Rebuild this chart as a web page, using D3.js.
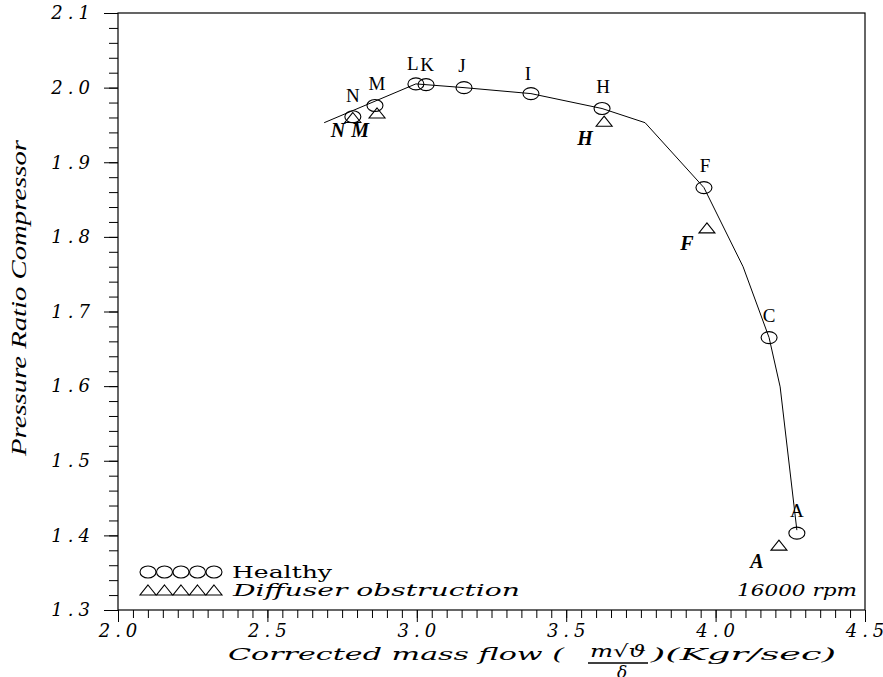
<!DOCTYPE html>
<html>
<head>
<meta charset="utf-8">
<script src="https://cdn.jsdelivr.net/npm/d3@7"></script>
<style>
  body { margin: 0; background: #fff; }
  svg { display: block; }
</style>
</head>
<body>
<svg id="chart" width="883" height="677"></svg>
<script>
// data
const healthyLabels = ['N', 'M', 'L', 'K', 'J', 'I', 'H', 'F', 'C', 'A'];
const healthyFlow = [2.786, 2.860, 2.997, 3.031, 3.158, 3.382, 3.620, 3.961, 4.179, 4.272];
const healthyRatio = [1.961, 1.976, 2.005, 2.004, 2.000, 1.992, 1.972, 1.866, 1.665, 1.403];

const diffuserLabels = ['N', 'M', 'H', 'F', 'A'];
const diffuserFlow = [2.786, 2.867, 3.627, 3.971, 4.212];
const diffuserRatio = [1.960, 1.966, 1.955, 1.812, 1.387];

// speed line (16000 rpm)
const lineFlow = [2.690, 2.997, 3.158, 3.382, 3.620, 3.764, 3.961, 4.092, 4.179, 4.216, 4.272];
const lineRatio = [1.953, 2.005, 2.000, 1.992, 1.972, 1.953, 1.866, 1.760, 1.665, 1.599, 1.407];

const xTicks = [2.0, 2.5, 3.0, 3.5, 4.0, 4.5];
const yTicks = [1.3, 1.4, 1.5, 1.6, 1.7, 1.8, 1.9, 2.0, 2.1];

const margin = { top: 13, right: 18, bottom: 67, left: 118 };
const width = 883, height = 677;

const svg = d3.select('#chart');

const x = d3.scaleLinear().domain([2.0, 4.5]).range([margin.left, width - margin.right]);
const y = d3.scaleLinear().domain([1.3, 2.1]).range([height - margin.bottom, margin.top]);

const tickFont = "'DejaVu Serif', serif";

// frame
svg.append('rect')
    .attr('x', x(2.0)).attr('y', y(2.1))
    .attr('width', x(4.5) - x(2.0)).attr('height', y(1.3) - y(2.1))
    .attr('fill', 'none').attr('stroke', '#000').attr('stroke-width', 1.2);

// minor ticks
const xMinor = d3.range(2.0, 4.5001, 0.05);
const yMinor = d3.range(1.3, 2.1001, 0.02);

svg.append('g')
    .attr('transform', `translate(0,${y(1.3)})`)
    .call(d3.axisBottom(x).tickValues(xMinor).tickSize(8).tickFormat(''))
    .call(g => g.select('.domain').remove());

svg.append('g')
    .attr('transform', `translate(${x(2.0)},0)`)
    .call(d3.axisLeft(y).tickValues(yMinor).tickSize(9).tickFormat(''))
    .call(g => g.select('.domain').remove());

// major ticks + labels
const xAxisG = svg.append('g')
    .attr('transform', `translate(0,${y(1.3)})`)
    .call(d3.axisBottom(x).tickValues(xTicks).tickSize(12).tickPadding(2).tickFormat(d3.format('.1f')))
    .call(g => g.select('.domain').remove());
xAxisG.selectAll('text')
    .attr('font-family', tickFont).attr('font-style', 'italic')
    .attr('font-size', 18).attr('letter-spacing', 5).attr('dx', 2).attr('fill', '#000');

const yAxisG = svg.append('g')
    .attr('transform', `translate(${x(2.0)},0)`)
    .call(d3.axisLeft(y).tickValues(yTicks).tickSize(14).tickPadding(9).tickFormat(d3.format('.1f')))
    .call(g => g.select('.domain').remove());
yAxisG.selectAll('text')
    .attr('font-family', tickFont).attr('font-style', 'italic')
    .attr('font-size', 18).attr('letter-spacing', 5).attr('fill', '#000');

svg.selectAll('.tick line').attr('stroke', '#000');

// speed line
const line = d3.line()
    .x(i => x(lineFlow[i]))
    .y(i => y(lineRatio[i]));
svg.append('path')
    .attr('d', line(d3.range(lineFlow.length)))
    .attr('fill', 'none').attr('stroke', '#000').attr('stroke-width', 1);

// healthy points (ellipses)
const healthy = healthyLabels.map((l, i) => ({ label: l, fx: healthyFlow[i], pr: healthyRatio[i] }));
svg.append('g').selectAll('ellipse').data(healthy).join('ellipse')
    .attr('cx', d => x(d.fx)).attr('cy', d => y(d.pr))
    .attr('rx', 8).attr('ry', 6)
    .attr('fill', 'none').attr('stroke', '#000').attr('stroke-width', 1.1);

const hOffset = { N: [0, -15], M: [2, -16], L: [-3, -14], K: [1, -14], J: [-2, -16], I: [-3, -14], H: [1, -16], F: [1, -16], C: [0, -16], A: [0, -16] };
svg.append('g').selectAll('text').data(healthy).join('text')
    .attr('x', d => x(d.fx) + hOffset[d.label][0])
    .attr('y', d => y(d.pr) + hOffset[d.label][1])
    .attr('text-anchor', 'middle')
    .attr('font-family', "'Liberation Serif', serif")
    .attr('font-size', 19)
    .text(d => d.label);

// diffuser obstruction points (triangles)
const diffuser = diffuserLabels.map((l, i) => ({ label: l, fx: diffuserFlow[i], pr: diffuserRatio[i] }));
const tri = 'M0,-5L8,5L-8,5Z';
svg.append('g').selectAll('path').data(diffuser).join('path')
    .attr('transform', d => `translate(${x(d.fx)},${y(d.pr)})`)
    .attr('d', tri)
    .attr('fill', 'none').attr('stroke', '#000').attr('stroke-width', 1.1);

const dOffset = { N: [-15, 20], M: [-17, 24], H: [-19, 24], F: [-20, 22], A: [-22, 23] };
svg.append('g').selectAll('text').data(diffuser).join('text')
    .attr('x', d => x(d.fx) + dOffset[d.label][0])
    .attr('y', d => y(d.pr) + dOffset[d.label][1])
    .attr('text-anchor', 'middle')
    .attr('font-family', "'Liberation Serif', serif")
    .attr('font-style', 'italic').attr('font-weight', 'bold')
    .attr('font-size', 20)
    .text(d => d.label);

// legend
const legend = svg.append('g');
const legendFont = "'DejaVu Serif', serif";
legend.selectAll('ellipse').data(d3.range(5)).join('ellipse')
    .attr('cx', i => 148 + i * 16.5).attr('cy', 572)
    .attr('rx', 8).attr('ry', 6)
    .attr('fill', 'none').attr('stroke', '#000').attr('stroke-width', 1.1);
legend.selectAll('path').data(d3.range(5)).join('path')
    .attr('transform', i => `translate(${148 + i * 16.5},590)`)
    .attr('d', tri)
    .attr('fill', 'none').attr('stroke', '#000').attr('stroke-width', 1.1);
legend.append('text')
    .attr('x', 232).attr('y', 578)
    .attr('font-family', legendFont).attr('font-size', 16)
    .attr('textLength', 100).attr('lengthAdjust', 'spacingAndGlyphs')
    .text('Healthy');
legend.append('text')
    .attr('x', 233).attr('y', 596)
    .attr('font-family', legendFont).attr('font-style', 'italic').attr('font-size', 16)
    .attr('textLength', 287).attr('lengthAdjust', 'spacingAndGlyphs')
    .text('Diffuser  obstruction');

svg.append('text')
    .attr('x', 737).attr('y', 596)
    .attr('font-family', legendFont).attr('font-style', 'italic').attr('font-size', 16)
    .attr('textLength', 120).attr('lengthAdjust', 'spacingAndGlyphs')
    .text('16000  rpm');

// y axis title
svg.append('text')
    .attr('transform', 'translate(26,298) rotate(-90)')
    .attr('text-anchor', 'middle')
    .attr('font-family', "'Liberation Serif', serif")
    .attr('font-style', 'italic').attr('font-size', 21)
    .attr('textLength', 316).attr('lengthAdjust', 'spacingAndGlyphs')
    .text('Pressure  Ratio  Compressor');

// x axis title
const xt = svg.append('g').attr('font-family', legendFont).attr('font-style', 'italic')
    .attr('font-size', 17);
xt.append('text')
    .attr('x', 228).attr('y', 660)
    .attr('textLength', 336).attr('lengthAdjust', 'spacingAndGlyphs')
    .text('Corrected  mass  flow  (');
xt.append('text')
    .attr('x', 590).attr('y', 657)
    .attr('textLength', 56).attr('lengthAdjust', 'spacingAndGlyphs')
    .text('m√ϑ');
xt.append('line')
    .attr('x1', 588).attr('x2', 648).attr('y1', 663).attr('y2', 663)
    .attr('stroke', '#000').attr('stroke-width', 1.4);
xt.append('text')
    .attr('x', 622).attr('y', 678).attr('text-anchor', 'middle')
    .text('δ');
xt.append('text')
    .attr('x', 651).attr('y', 660)
    .attr('textLength', 185).attr('lengthAdjust', 'spacingAndGlyphs')
    .text(')(Kgr/sec)');
</script>
</body>
</html>
